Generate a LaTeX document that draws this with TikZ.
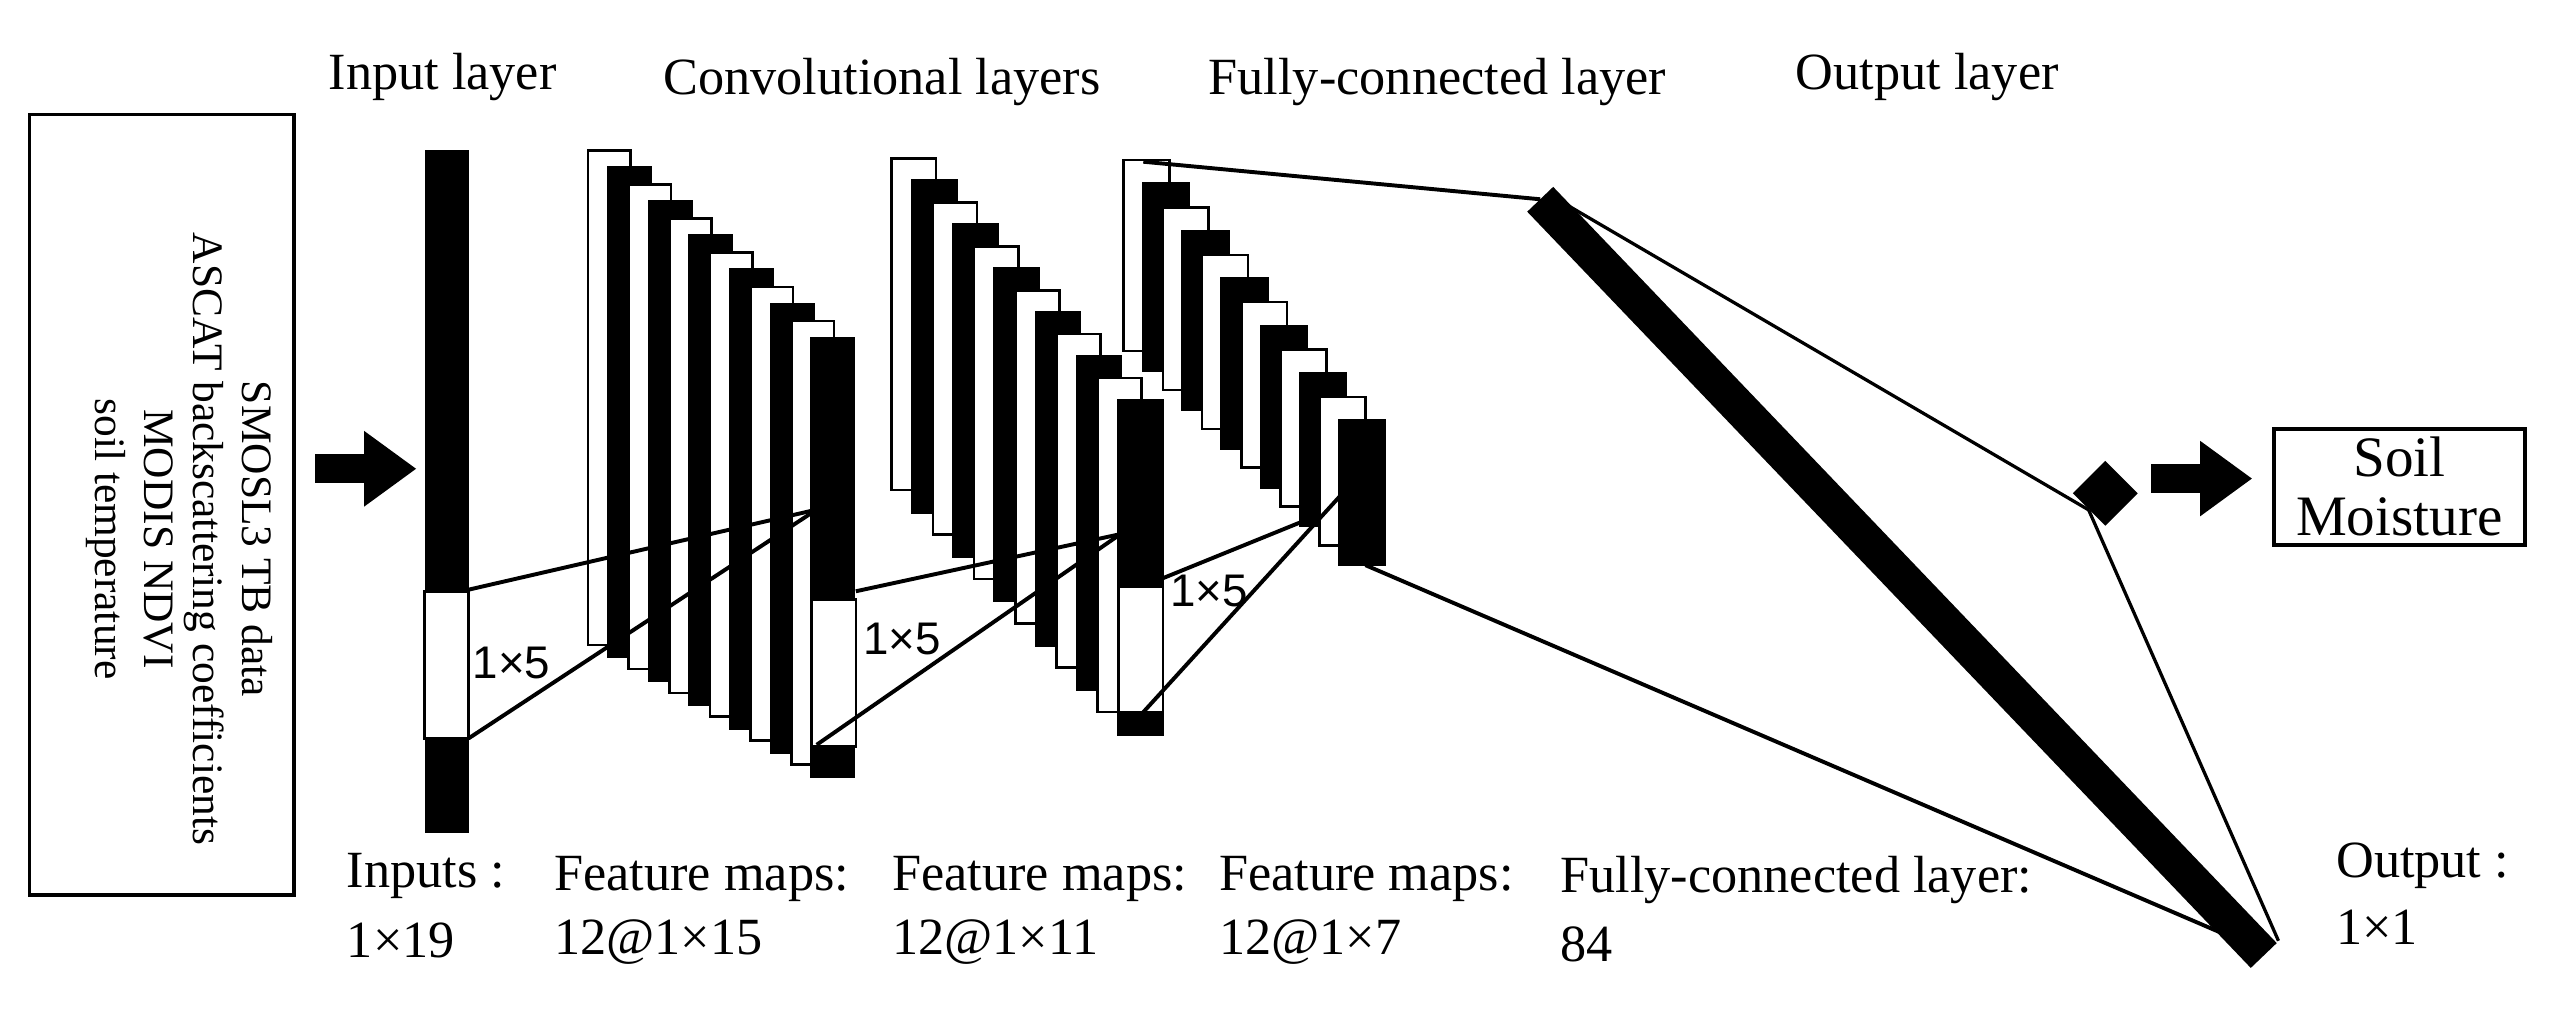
\documentclass[tikz,border=0pt]{standalone}
\usepackage{fontspec}
\setmainfont{Liberation Serif}
\newfontfamily\lblfont{Liberation Sans}
\usetikzlibrary{shapes.geometric,arrows.meta}
\begin{document}
\begin{tikzpicture}[x=0.5pt,y=-0.5pt,
  txt/.style={font=\fontsize{16}{19}\selectfont,inner sep=0pt},
  lbl/.style={font=\lblfont\fontsize{14}{16}\selectfont,inner sep=0pt},
  wbox/.style={fill=white,draw=black,line width=0.8pt},
  bbox/.style={fill=black,draw=black,line width=0.8pt},
  conn/.style={line width=1.2pt},
  bigarrow/.style={-{Triangle[length=16pt,width=22pt]},line width=9pt}]
\useasboundingbox (0,0) rectangle (1568,623);
% input box
\node[draw,line width=1pt,minimum width=81pt,minimum height=239pt,inner sep=0pt] (inbox) at (99,309) {};
\node[txt,rotate=-90,align=center,font=\fontsize{13.3}{15}\selectfont] (intext) at (110,330)
 {SMOSL3 TB data\\ASCAT backscattering coefficients\\MODIS NDVI\\soil temperature};
\coordinate (a1s) at (193,287); \coordinate (a1e) at (255,287);
\draw[bigarrow] (a1s) -- (a1e);
% input bar
\fill (260,92) rectangle (287,362);
\draw[wbox] (260,362) rectangle (287,452);
\fill (260,452) rectangle (287,510);
\coordinate (inT) at (287,361); \coordinate (inB) at (287,452);
% stack 1
\foreach \i in {0,...,11}{
  \pgfmathsetmacro\xa{360+\i*12.45}
  \pgfmathsetmacro\ya{92+\i*10.45}
  \pgfmathsetmacro\yb{395+\i*7.3}
  \pgfmathparse{mod(\i,2)==0?"wbox":"bbox"}
  \edef\st{\pgfmathresult}
  \draw[style=\st] (\xa,\ya) rectangle ++(26,\yb-\ya);
}
\draw[wbox] (497,367) rectangle (524,457);
\coordinate (s1in) at (500,312);
\coordinate (s1T) at (524,362); \coordinate (s1B) at (500,456);
% stack 2
\foreach \i in {0,...,11}{
  \pgfmathsetmacro\xa{546+\i*12.6}
  \pgfmathsetmacro\ya{97+\i*13.45}
  \pgfmathsetmacro\yb{300+\i*13.6}
  \pgfmathparse{mod(\i,2)==0?"wbox":"bbox"}
  \edef\st{\pgfmathresult}
  \draw[style=\st] (\xa,\ya) rectangle ++(27,\yb-\ya);
}
\draw[wbox] (685,359) rectangle (712,436);
\coordinate (s2in) at (686,327);
\coordinate (s2T) at (712,354); \coordinate (s2B) at (700,436);
% stack 3
\foreach \i in {0,...,11}{
  \pgfmathsetmacro\xa{688+\i*12}
  \pgfmathsetmacro\ya{98+\i*14.5}
  \pgfmathsetmacro\yb{215+\i*11.9}
  \pgfmathparse{mod(\i,2)==0?"wbox":"bbox"}
  \edef\st{\pgfmathresult}
  \draw[style=\st] (\xa,\ya) rectangle ++(28,\yb-\ya);
}
\coordinate (s3a) at (808,315); \coordinate (s3b) at (822,302);
\coordinate (s3top) at (700,99); \coordinate (s3bot) at (836,346);
% connectors
\draw[conn] (inT) -- (s1in); \draw[conn] (inB) -- (s1in);
\draw[conn] (s1T) -- (s2in); \draw[conn] (s1B) -- (s2in);
\draw[conn] (s2T) -- (s3a); \draw[conn] (s2B) -- (s3b);
% fully connected
\coordinate (fcT) at (943,122); \coordinate (fcB) at (1386,585);
\draw[line width=11pt] (fcT) -- (fcB);
\draw[conn] (s3top) -- (fcT);
\draw[conn] (s3bot) -- (1376,578);
\node[diamond,fill=black,minimum width=20pt,minimum height=20pt,inner sep=0pt] (out) at (1289,302) {};
\draw[line width=1pt] (950,120) -- (out.south west);
\draw[line width=1pt] (out.south west) -- (1395,576);
\coordinate (a2s) at (1317,293); \coordinate (a2e) at (1379,293);
\draw[bigarrow] (a2s) -- (a2e);
\node[draw,line width=1.2pt,minimum width=77pt,minimum height=35.5pt,align=center,txt,font=\fontsize{17.5}{18}\selectfont] (sm) at (1469,298) {Soil\\Moisture};
% labels
\node[lbl,anchor=west] (k1) at (289,406) {1×5};
\node[lbl,anchor=west] (k2) at (528,391) {1×5};
\node[lbl,anchor=west] (k3) at (716,362) {1×5};
\node[txt] (t1) at (271,47) {Input layer};
\node[txt] (t2) at (540,50) {Convolutional layers};
\node[txt] (t3) at (880,50) {Fully-connected layer};
\node[txt] (t4) at (1180,47) {Output layer};
\node[txt,anchor=west] at (212,536) {Inputs :};
\node[txt,anchor=west] at (212,576) {1×19};
\node[txt,anchor=west] at (339,538) {Feature maps:};
\node[txt,anchor=west] at (339,577) {12@1×15};
\node[txt,anchor=west] at (546,538) {Feature maps:};
\node[txt,anchor=west] at (546,577) {12@1×11};
\node[txt,anchor=west] at (746,538) {Feature maps:};
\node[txt,anchor=west] at (746,577) {12@1×7};
\node[txt,anchor=west] at (955,539) {Fully-connected layer:};
\node[txt,anchor=west] at (955,578) {84};
\node[txt,anchor=west] at (1430,530) {Output :};
\node[txt,anchor=west] at (1430,568) {1×1};
\end{tikzpicture}
\end{document}
